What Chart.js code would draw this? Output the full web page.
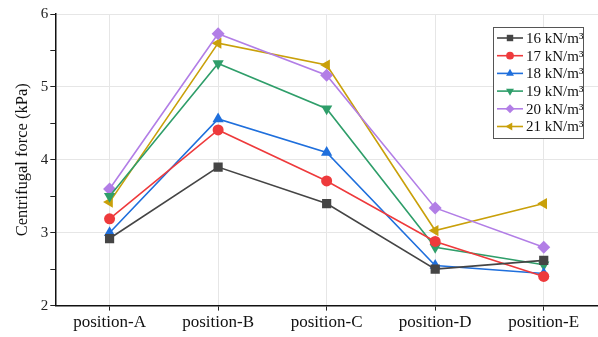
<!DOCTYPE html>
<html>
<head>
<meta charset="utf-8">
<script src="https://cdn.jsdelivr.net/npm/chart.js@4/dist/chart.umd.min.js"></script>
<style>
  html, body { margin: 0; padding: 0; background: #fff; }
  #wrap { width: 598px; height: 337px; }
</style>
</head>
<body>
<div id="wrap"><canvas id="c"></canvas></div>
<script>
// data
const positions = ['position-A', 'position-B', 'position-C', 'position-D', 'position-E'];
const seriesNames = ['16 kN/m\u00B3', '17 kN/m\u00B3', '18 kN/m\u00B3', '19 kN/m\u00B3', '20 kN/m\u00B3', '21 kN/m\u00B3'];
const w16 = [2.92, 3.90, 3.40, 2.50, 2.62];
const w17 = [3.19, 4.41, 3.71, 2.88, 2.40];
const w18 = [3.00, 4.56, 4.10, 2.55, 2.44];
const w19 = [3.50, 5.32, 4.70, 2.80, 2.56];
const w20 = [3.60, 5.73, 5.16, 3.34, 2.80];
const w21 = [3.42, 5.60, 5.30, 3.03, 3.40];

const colors = ['#454545', '#ee3a3c', '#1f6fdc', '#2f9e6a', '#b27ee6', '#c9a00a'];
const markers = ['rect', 'circle', 'triangle', 'triangle', 'rectRot', 'triangle'];
const rotations = [0, 0, 0, 180, 0, -90];
const sizes = [6.5, 5.5, 6.5, 6.5, 6.5, 6.5];

const serif = "'Liberation Serif', 'DejaVu Serif', serif";

const datasets = [w16, w17, w18, w19, w20, w21].map((vals, i) => ({
    label: seriesNames[i],
    data: vals,
    borderColor: colors[i],
    backgroundColor: colors[i],
    borderWidth: 1.6,
    pointStyle: markers[i],
    rotation: rotations[i],
    pointRadius: sizes[i],
    pointBorderWidth: 0,
    tension: 0
}));

// legend box with line + marker, like the original
const boxLegend = {
    id: 'boxLegend',
    afterDraw(chart) {
        const ctx = chart.ctx;
        const x0 = 493, y0 = 27, w = 90, h = 111;
        ctx.save();
        ctx.fillStyle = '#fff';
        ctx.fillRect(x0, y0, w, h);
        ctx.strokeStyle = '#555';
        ctx.lineWidth = 1;
        ctx.strokeRect(x0 + 0.5, y0 + 0.5, w, h);
        chart.data.datasets.forEach((ds, i) => {
            const y = y0 + 11 + i * 17.7;
            ctx.strokeStyle = ds.borderColor;
            ctx.lineWidth = 1.6;
            ctx.beginPath();
            ctx.moveTo(x0 + 4, y);
            ctx.lineTo(x0 + 30, y);
            ctx.stroke();
            ctx.fillStyle = ds.backgroundColor;
            Chart.helpers.drawPoint(ctx, {
                pointStyle: ds.pointStyle,
                rotation: ds.rotation,
                radius: ds.pointRadius * 0.7,
                borderWidth: 0
            }, x0 + 17, y);
            ctx.fillStyle = '#111';
            ctx.font = '15px ' + serif;
            ctx.textBaseline = 'middle';
            ctx.fillText(ds.label, x0 + 33, y + 1);
        });
        ctx.restore();
    }
};

new Chart(document.getElementById('c'), {
    type: 'line',
    data: { labels: positions, datasets: datasets },
    options: {
        responsive: true,
        maintainAspectRatio: false,
        animation: false,
        layout: { autoPadding: false, padding: { top: 14, right: 0, left: 9, bottom: 2 } },
        scales: {
            x: {
                offset: true,
                grid: {
                    offset: false,
                    color: '#e6e6e6',
                    tickColor: '#222',
                    tickLength: 5
                },
                border: { color: '#111', width: 1.5 },
                ticks: { color: '#111', font: { family: serif, size: 17 }, padding: 2 }
            },
            y: {
                min: 2,
                max: 6,
                grid: {
                    color: ctx => (ctx.tick && Number.isInteger(ctx.tick.value)) ? '#e6e6e6' : 'rgba(0,0,0,0)',
                    tickColor: '#222',
                    tickLength: 5
                },
                border: { color: '#111', width: 1.5 },
                ticks: {
                    stepSize: 0.5,
                    color: '#222',
                    font: { family: serif, size: 15 },
                    padding: 2,
                    callback: v => Number.isInteger(v) ? v : ''
                },
                title: {
                    display: true,
                    text: 'Centrifugal force (kPa)',
                    color: '#111',
                    font: { family: serif, size: 16.5 },
                    padding: { bottom: 6 }
                }
            }
        },
        plugins: {
            legend: { display: false },
            tooltip: { enabled: false }
        }
    },
    plugins: [boxLegend]
});
</script>
</body>
</html>
